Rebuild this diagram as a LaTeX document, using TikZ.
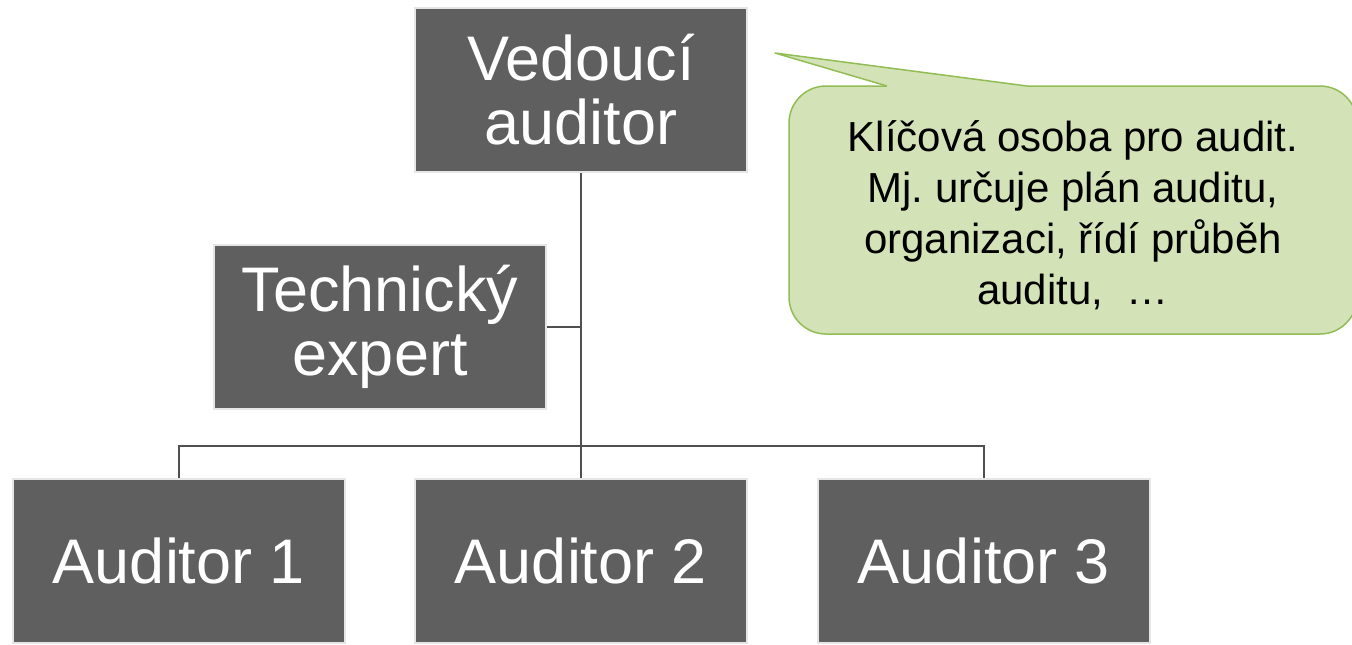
\documentclass[tikz,border=0pt]{standalone}
\usepackage{fontspec}
\setmainfont{Liberation Sans}

\definecolor{boxgray}{HTML}{5F5F5F}
\definecolor{boxedge}{HTML}{E6E6E6}
\definecolor{linkgray}{HTML}{505050}
\definecolor{notefill}{HTML}{D4E2B7}
\definecolor{noteedge}{HTML}{92BD55}

\begin{document}
\begin{tikzpicture}[
  x=0.5pt, y=-0.5pt,
  rolebox/.style = {draw=boxedge, line width=1pt, fill=boxgray, text=white,
                    minimum width=166pt, minimum height=82pt, inner sep=0pt,
                    align=center, font=\fontsize{31.5}{32}\selectfont},
  link/.style = {draw=linkgray, line width=1pt},
  note/.style = {draw=noteedge, line width=0.75pt, fill=notefill, rounded corners=18.5pt,
                 minimum width=284pt, minimum height=124pt, inner sep=0pt},
  notetext/.style = {align=center, inner sep=0pt, font=\fontsize{21}{25.5}\selectfont}
]

% Frame
\useasboundingbox (0,0) rectangle (1352,644);

% Roles
\node[rolebox] (lead) at (581,90) {Vedoucí\\auditor};
\node[rolebox] (expert) at (380,327) {Technický\\expert};
\node[rolebox] (aud1) at (179,561) {Auditor 1};
\node[rolebox] (aud2) at (581,561) {Auditor 2};
\node[rolebox] (aud3) at (984,561) {Auditor 3};

% Tree lines
\coordinate (bus) at (581,446);
\draw[link] (lead.south) -- (bus);
\draw[link] (expert.east) -- (expert.east -| lead.south);
\draw[link] (aud1.north) -- (aud1.north |- bus) -- (aud3.north |- bus) -- (aud3.north);
\draw[link] (aud2.north) -- (aud2.north |- bus);

% Callout
\node[note] (note) at (1073,210) {};
\coordinate (tip) at (775,53);
\coordinate (tailL) at (887,86);
\coordinate (tailR) at (1027,86);
\fill[notefill] (tailL) -- (tip) -- (tailR) -- (1027,89) -- (887,89) -- cycle;
\draw[noteedge, line width=0.75pt, line join=round] (tailL) -- (tip) -- (tailR);
\node[notetext] (notetxt) at ([yshift=-2.5pt]note.center)
  {Klíčová osoba pro audit.\\Mj.\ určuje plán auditu,\\organizaci, řídí průběh\\auditu,\ \ …};

\end{tikzpicture}
\end{document}
